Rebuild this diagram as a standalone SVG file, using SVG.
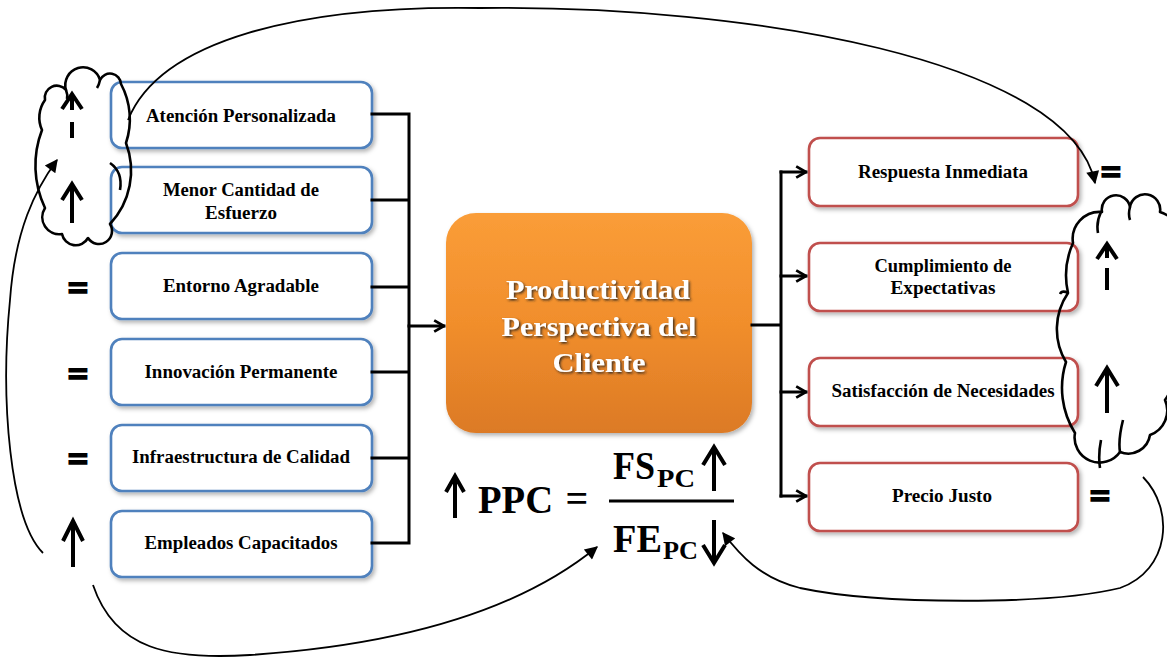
<svg xmlns="http://www.w3.org/2000/svg" width="1167" height="660" viewBox="0 0 1167 660">
<defs>
<style>
.lbox{fill:#fff;stroke:#4F81BD;stroke-width:2.6}
.rbox{fill:#fff;stroke:#C0504D;stroke-width:2.6}
.lbl{font-family:"Liberation Serif","Times New Roman",serif;font-weight:bold;font-size:18px;text-anchor:middle;fill:#000}
.conn{fill:none;stroke:#000;stroke-width:3;stroke-linecap:square}
.curve{fill:none;stroke:#000;stroke-width:1.8}
.cloud{fill:none;stroke:#000;stroke-width:2.6;stroke-linejoin:round}
.sym{fill:none;stroke:#000;stroke-width:4;stroke-linejoin:miter}
.eq{font-family:"Liberation Serif","Times New Roman",serif;font-weight:bold;font-size:36px;text-anchor:middle;fill:#000;stroke:#000;stroke-width:2.2}
.ctr{font-family:"Liberation Serif","Times New Roman",serif;font-weight:bold;font-size:28px;text-anchor:middle;fill:#fff}
.fx{font-family:"Liberation Serif","Times New Roman",serif;font-weight:bold;fill:#000}
</style>
<linearGradient id="og" x1="0" y1="0" x2="0" y2="1">
<stop offset="0" stop-color="#FA9D38"/>
<stop offset="0.5" stop-color="#F18E2C"/>
<stop offset="1" stop-color="#DC7A25"/>
</linearGradient>
<filter id="sh" x="-10%" y="-10%" width="130%" height="140%">
<feDropShadow dx="2" dy="2.5" stdDeviation="2" flood-color="#000" flood-opacity="0.3"/>
</filter>
<filter id="tsh" x="-10%" y="-20%" width="130%" height="150%">
<feDropShadow dx="1.5" dy="1.5" stdDeviation="1" flood-color="#222" flood-opacity="0.85"/>
</filter>
<marker id="chev" viewBox="0 0 10 10" refX="9" refY="5" markerWidth="14" markerHeight="14" markerUnits="userSpaceOnUse" orient="auto">
<path d="M2,1 L9,5 L2,9" fill="none" stroke="#000" stroke-width="2"/>
</marker>
<marker id="tri" viewBox="0 0 10 10" refX="9" refY="5" markerWidth="15" markerHeight="13" markerUnits="userSpaceOnUse" orient="auto">
<path d="M0,0 L10,5 L0,10 z" fill="#000"/>
</marker>
</defs>
<rect width="1167" height="660" fill="#fff"/>

<g id="n-atencion"><rect class="lbox" x="111" y="82" width="261" height="66" rx="11" filter="url(#sh)"/><text class="lbl" x="241" y="122" textLength="190" lengthAdjust="spacingAndGlyphs">Atención Personalizada</text></g>
<g id="n-menor"><rect class="lbox" x="111" y="167" width="261" height="66" rx="11" filter="url(#sh)"/><text class="lbl" x="241" y="196" textLength="156" lengthAdjust="spacingAndGlyphs">Menor Cantidad de</text><text class="lbl" x="241" y="219" textLength="72" lengthAdjust="spacingAndGlyphs">Esfuerzo</text></g>
<g id="n-entorno"><rect class="lbox" x="111" y="253" width="261" height="66" rx="11" filter="url(#sh)"/><text class="lbl" x="241" y="292" textLength="156" lengthAdjust="spacingAndGlyphs">Entorno Agradable</text></g>
<g id="n-innovacion"><rect class="lbox" x="111" y="339" width="261" height="66" rx="11" filter="url(#sh)"/><text class="lbl" x="241" y="378" textLength="193" lengthAdjust="spacingAndGlyphs">Innovación Permanente</text></g>
<g id="n-infra"><rect class="lbox" x="111" y="425" width="261" height="66" rx="11" filter="url(#sh)"/><text class="lbl" x="241" y="463" textLength="218" lengthAdjust="spacingAndGlyphs">Infraestructura de Calidad</text></g>
<g id="n-empleados"><rect class="lbox" x="111" y="511" width="261" height="66" rx="11" filter="url(#sh)"/><text class="lbl" x="241" y="549" textLength="193" lengthAdjust="spacingAndGlyphs">Empleados Capacitados</text></g>

<g id="n-respuesta"><rect class="rbox" x="809" y="138" width="269" height="68" rx="11" filter="url(#sh)"/><text class="lbl" x="943" y="178" textLength="170" lengthAdjust="spacingAndGlyphs">Respuesta Inmediata</text></g>
<g id="n-cumplimiento"><rect class="rbox" x="809" y="243" width="269" height="68" rx="11" filter="url(#sh)"/><text class="lbl" x="943" y="272" textLength="137" lengthAdjust="spacingAndGlyphs">Cumplimiento de</text><text class="lbl" x="943" y="294" textLength="105" lengthAdjust="spacingAndGlyphs">Expectativas</text></g>
<g id="n-satisfaccion"><rect class="rbox" x="809" y="358" width="269" height="68" rx="11" filter="url(#sh)"/><text class="lbl" x="943" y="397" textLength="223" lengthAdjust="spacingAndGlyphs">Satisfacción de Necesidades</text></g>
<g id="n-precio"><rect class="rbox" x="809" y="463" width="269" height="68" rx="11" filter="url(#sh)"/><text class="lbl" x="942" y="502" textLength="100" lengthAdjust="spacingAndGlyphs">Precio Justo</text></g>

<g id="n-center">
<rect x="446" y="213" width="306" height="220" rx="30" fill="url(#og)" filter="url(#sh)"/>
<g filter="url(#tsh)">
<text class="ctr" x="598" y="299" textLength="184" lengthAdjust="spacingAndGlyphs">Productividad</text>
<text class="ctr" x="599" y="336" textLength="195" lengthAdjust="spacingAndGlyphs">Perspectiva del</text>
<text class="ctr" x="599" y="372" textLength="93" lengthAdjust="spacingAndGlyphs">Cliente</text>
</g>
</g>

<g id="connectors">
<path class="conn" d="M372,114 H409 M372,200 H409 M372,287 H409 M372,372 H409 M372,458 H409 M372,543 H409 M409,114 V543"/>
<path class="conn" d="M409,326 H444" stroke-width="4" marker-end="url(#chev)"/>
<path class="conn" d="M752,325 H781 M781,172 V496"/>
<path class="conn" d="M781,172 H806" marker-end="url(#chev)"/>
<path class="conn" d="M781,276 H806" marker-end="url(#chev)"/>
<path class="conn" d="M781,392 H806" marker-end="url(#chev)"/>
<path class="conn" d="M781,496 H806" marker-end="url(#chev)"/>
<path class="curve" d="M128,120 C160,40 300,5 480,8 C750,5 1070,60 1095,183" marker-end="url(#tri)"/>
<path class="curve" d="M43,553 C10,520 0,400 10,300 C15,230 35,190 57,160" marker-end="url(#tri)"/>
<path class="curve" d="M93,585 C115,650 170,660 250,655 C400,645 520,610 597,547" marker-end="url(#tri)"/>
<path class="curve" d="M1143,477 C1175,510 1170,570 1120,588 C1050,605 880,605 800,588 C760,578 740,555 723,533" marker-end="url(#tri)"/>
</g>

<g id="cloud-left">
<path class="cloud" d="M45,100 A12,12 0 0 1 66,90 A17,17 0 0 1 100,80 A11,11 0 0 1 121,84 A75,75 0 0 1 126,143 A78,78 0 0 1 110,224 A13,13 0 0 1 88,238 A14,14 0 0 1 62,234 A17,17 0 0 1 45,208 A99,99 0 0 1 42,130 A30,30 0 0 1 45,100 Z"/>
<path class="cloud" d="M110,163 Q123,172 120,190 M66,90 Q68,95 67,99 M100,80 Q99,85 97,88"/>
<path class="sym" d="M62,109 L72,94 L82,109 M72,97 V110 M72,122 V138"/>
<path class="sym" d="M72,223 V185 M62,200 L72,184 L82,200"/>
</g>

<g id="cloud-right">
<path class="cloud" d="M1073,243 A27,27 0 0 1 1102,212 A14,14 0 0 1 1130,207 A15,15 0 0 1 1160,212 A30,30 0 0 1 1174,260 A60,60 0 0 1 1170,340 A60,60 0 0 1 1165,400 A26,26 0 0 1 1150,435 A22,22 0 0 1 1120,452 A25,25 0 0 1 1075,433 A85,85 0 0 1 1066,362 A64,64 0 0 1 1068,293 A80,80 0 0 1 1073,243 Z"/>
<path class="cloud" d="M1098,233 Q1096,222 1101,212 M1130,207 Q1128,214 1130,220 M1120,452 Q1118,440 1123,420 M1100,468 Q1098,455 1101,440 M1068,293 Q1062,290 1060,294"/>
<path class="sym" d="M1097,259 L1107,244 L1117,259 M1107,247 V258 M1107,268 V290"/>
<path class="sym" d="M1107,413 V370 M1096,386 L1107,368 L1118,386"/>
</g>

<g id="signs">
<text class="eq" x="78" y="300">=</text>
<text class="eq" x="78" y="386">=</text>
<text class="eq" x="78" y="471">=</text>
<text class="eq" x="1111" y="184">=</text>
<text class="eq" x="1100" y="508">=</text>
<path class="sym" d="M73,567 V523 M63,541 L73,521 L83,541"/>
</g>

<g id="formula">
<path class="sym" d="M455,518 V478 M446,492 L455,476 L464,492" stroke-width="3.5"/>
<text class="fx" x="478" y="513" font-size="40" textLength="75" lengthAdjust="spacingAndGlyphs">PPC</text>
<text class="fx" x="577" y="512" font-size="40" text-anchor="middle">=</text>
<line x1="609" y1="501" x2="734" y2="501" stroke="#000" stroke-width="3.2"/>
<text class="fx" x="613" y="479" font-size="40" textLength="42" lengthAdjust="spacingAndGlyphs">FS</text>
<text class="fx" x="657" y="487" font-size="26" textLength="38" lengthAdjust="spacingAndGlyphs">PC</text>
<path class="sym" d="M714,491 V449 M703,465 L714,447 L725,465" stroke-width="4.5"/>
<text class="fx" x="613" y="552" font-size="40" textLength="49" lengthAdjust="spacingAndGlyphs">FE</text>
<text class="fx" x="663" y="559" font-size="26" textLength="35" lengthAdjust="spacingAndGlyphs">PC</text>
<path class="sym" d="M714,520 V561 M703,545 L714,563 L725,545" stroke-width="4.5"/>
</g>
</svg>
